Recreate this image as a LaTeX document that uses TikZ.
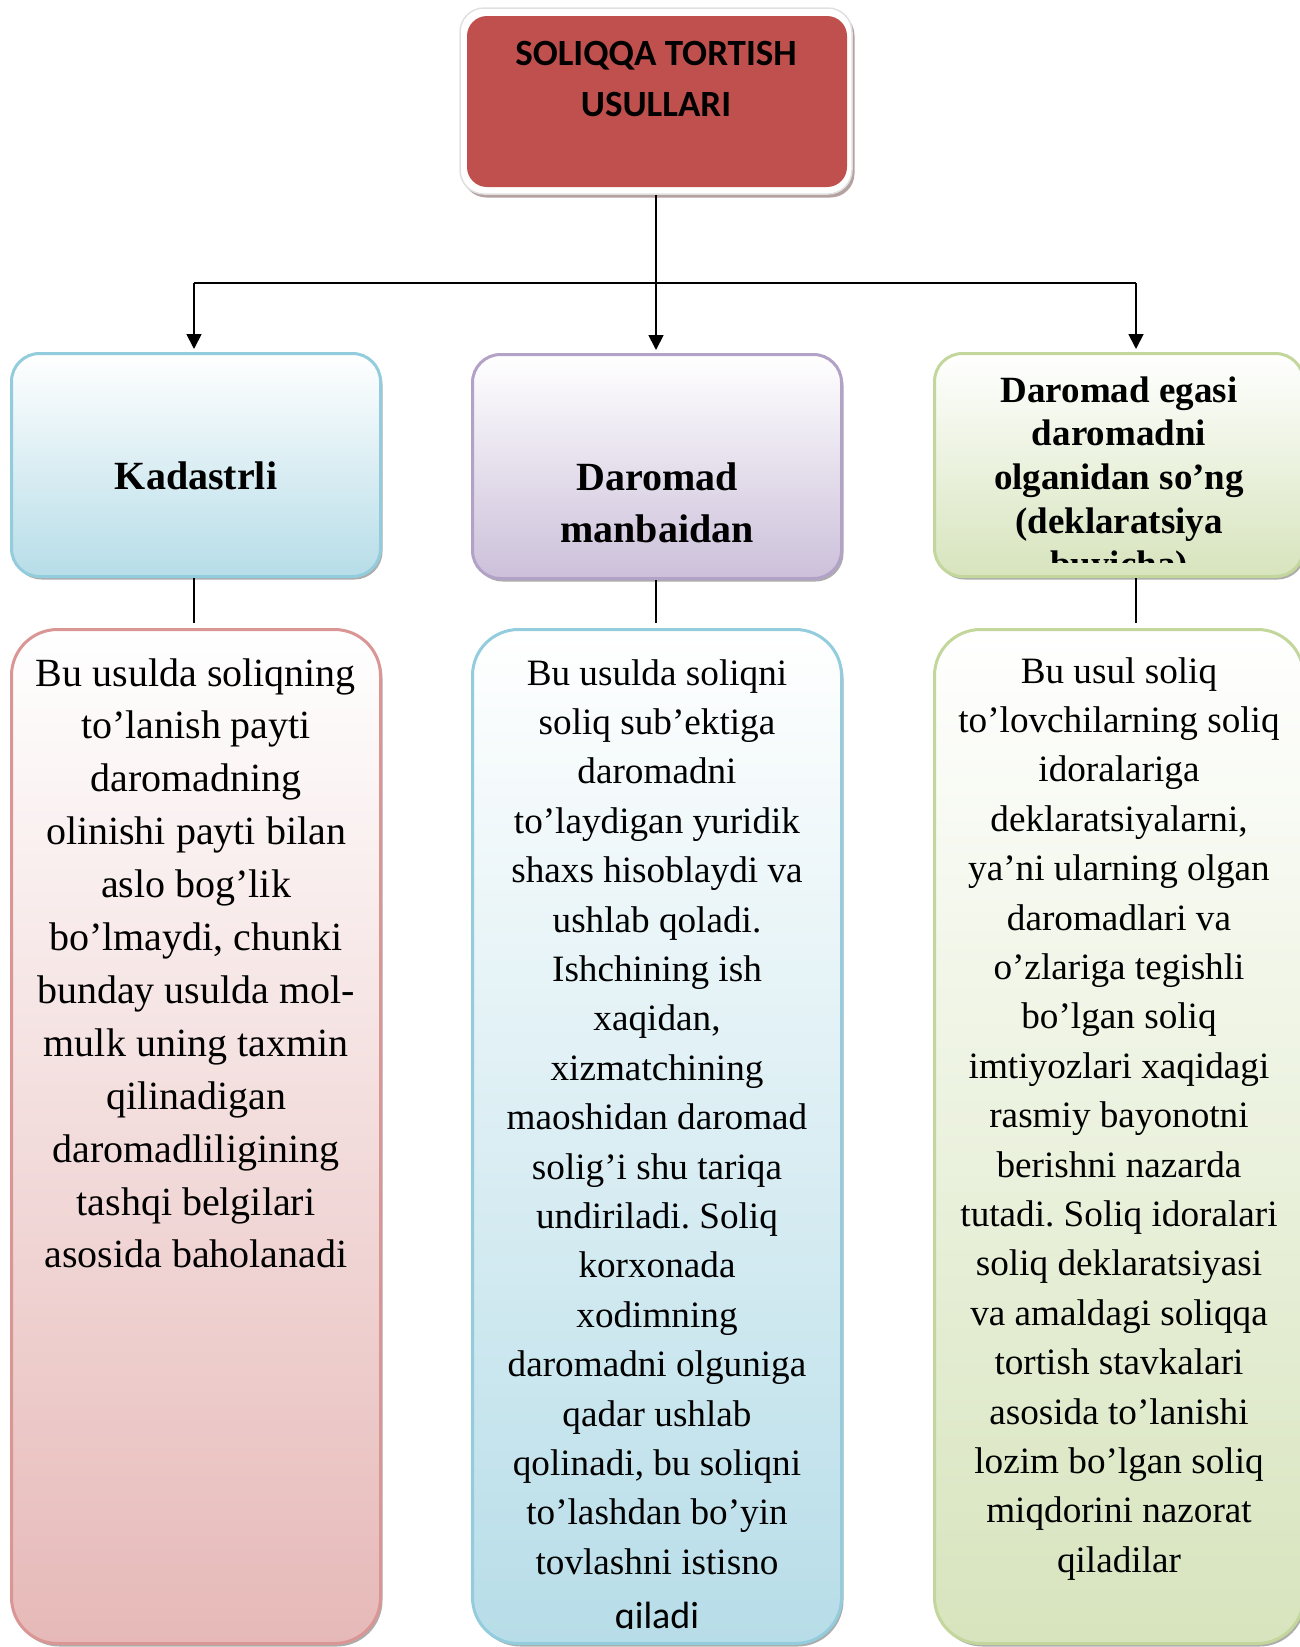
\documentclass[tikz,border=0pt]{standalone}
\usepackage{fontspec}
\setmainfont{Liberation Serif}
\newfontfamily\calibri{Carlito}
\usetikzlibrary{arrows.meta,shadows}
\frenchspacing

\definecolor{hdred}{HTML}{C0504D}
\definecolor{aquaedge}{HTML}{93CDDD}
\definecolor{aquafill}{HTML}{B7DDE8}
\definecolor{lilacedge}{HTML}{B3A2C7}
\definecolor{lilacfill}{HTML}{CCC0DA}
\definecolor{greenedge}{HTML}{C3D69B}
\definecolor{greenfill}{HTML}{D7E4BD}
\definecolor{pinkedge}{HTML}{D99694}
\definecolor{pinkfill}{HTML}{E6B9B8}

\tikzset{
  conn/.style={line width=1.8pt, draw=black},
  tipped/.style={conn, -{Triangle[width=15pt,length=15pt]}},
  softshadow/.style={drop shadow={shadow xshift=2pt, shadow yshift=-3pt, fill=black!50, opacity=.65}},
  headbox/.style={rectangle, rounded corners=28pt, minimum width=369pt,
    line width=3pt, inner sep=0pt, softshadow},
  bodybox/.style={rectangle, rounded corners=46pt, minimum width=369pt,
    minimum height=1014pt, line width=3pt, inner sep=0pt, softshadow},
  txt/.style={anchor=base, inner sep=0pt, outer sep=0pt}
}

\begin{document}
\begin{tikzpicture}[x=1pt,y=-1pt]
\useasboundingbox (0,0) rectangle (1299,1647);

% title block: white frame with the red plate inside
\node[rectangle, rounded corners=24pt, minimum width=392pt, minimum height=186pt,
      fill=white, draw=black!12, line width=1.5pt,
      drop shadow={shadow xshift=2.5pt, shadow yshift=-3.5pt, fill=hdred!40!black!60, opacity=.7}] (frame) at (656,101) {};
\node[rectangle, rounded corners=20pt, minimum width=380pt, minimum height=171pt,
      fill=hdred, inner sep=0pt] (title) at (657,101.5) {};
\node[txt, font=\calibri\bfseries\fontsize{37}{51}\selectfont] (titletext) at (656,65)
  {\parbox[t]{380pt}{\centering SOLIQQA TORTISH\\USULLARI}};

% method headings
\node[headbox, minimum height=223pt, draw=aquaedge, top color=white, bottom color=aquafill] (h1) at (196,465) {};
\node[headbox, minimum height=224pt, draw=lilacedge, top color=white, bottom color=lilacfill] (h2) at (657,466.5) {};
\node[headbox, minimum height=223pt, draw=greenedge, top color=white, bottom color=greenfill] (h3) at (1119,465) {};

\node[txt, font=\bfseries\fontsize{40}{52}\selectfont] (h1text) at (196,489) {Kadastrli};
\node[txt, font=\bfseries\fontsize{40}{52}\selectfont] (h2text) at (657,490)
  {\parbox[t]{360pt}{\centering Daromad\\manbaidan}};
\begin{scope}
  \clip (920,340) rectangle (1299,562);
  \node[txt, font=\bfseries\fontsize{37}{43.7}\selectfont] (h3text) at (1119,402)
    {\parbox[t]{360pt}{\centering Daromad egasi\\daromadni\\olganidan so’ng\\(deklaratsiya\\buyicha)}};
\end{scope}

% descriptions
\node[bodybox, draw=pinkedge, top color=white, bottom color=pinkfill] (d1) at (196,1136.5) {};
\node[bodybox, draw=aquaedge, top color=white, bottom color=aquafill] (d2) at (657,1136.5) {};
\node[bodybox, draw=greenedge, top color=white, bottom color=greenfill] (d3) at (1119,1136.5) {};

\node[txt, font=\fontsize{40}{52.9}\selectfont] (d1text) at (196,686)
  {\parbox[t]{360pt}{\centering
   Bu usulda soliqning\\
   to’lanish payti\\
   daromadning\\
   olinishi payti bilan\\
   aslo bog’lik\\
   bo’lmaydi, chunki\\
   bunday usulda mol-\\
   mulk uning taxmin\\
   qilinadigan\\
   daromadliligining\\
   tashqi belgilari\\
   asosida baholanadi}};

\begin{scope}
  \clip (460,640) rectangle (860,1628);
  \node[txt, font=\fontsize{37.2}{49.4}\selectfont] (d2text) at (657,685)
    {\parbox[t]{360pt}{\centering
     Bu usulda soliqni\\
     soliq sub’ektiga\\
     daromadni\\
     to’laydigan yuridik\\
     shaxs hisoblaydi va\\
     ushlab qoladi.\\
     Ishchining ish\\
     xaqidan,\\
     xizmatchining\\
     maoshidan daromad\\
     solig’i shu tariqa\\
     undiriladi. Soliq\\
     korxonada\\
     xodimning\\
     daromadni olguniga\\
     qadar ushlab\\
     qolinadi, bu soliqni\\
     to’lashdan bo’yin\\
     tovlashni istisno\\[5pt]
     {\calibri\fontsize{38}{49.4}\selectfont qiladi}}};
\end{scope}

\node[txt, font=\fontsize{37.2}{49.4}\selectfont] (d3text) at (1119,683)
  {\parbox[t]{360pt}{\centering
   Bu usul soliq\\
   to’lovchilarning soliq\\
   idoralariga\\
   deklaratsiyalarni,\\
   ya’ni ularning olgan\\
   daromadlari va\\
   o’zlariga tegishli\\
   bo’lgan soliq\\
   imtiyozlari xaqidagi\\
   rasmiy bayonotni\\
   berishni nazarda\\
   tutadi. Soliq idoralari\\
   soliq deklaratsiyasi\\
   va amaldagi soliqqa\\
   tortish stavkalari\\
   asosida to’lanishi\\
   lozim bo’lgan soliq\\
   miqdorini nazorat\\
   qiladilar}};

% tree connectors
\coordinate (jc) at (656,283);
\coordinate (jl) at (194,283);
\coordinate (jr) at (1136,283);
\draw[conn] (frame.south) -- (jc);
\draw[conn] (jl) -- (jr);
\draw[tipped, shorten >=3pt] (jl) -- (jl |- h1.north);
\draw[tipped, shorten >=3pt] (jc) -- (jc |- h2.north);
\draw[tipped, shorten >=3pt] (jr) -- (jr |- h3.north);

% heading to description links
\draw[conn, shorten >=5pt] (h1.south -| jl) -- (d1.north -| jl);
\draw[conn, shorten >=5pt] (h2.south -| jc) -- (d2.north -| jc);
\draw[conn, shorten >=5pt] (h3.south -| jr) -- (d3.north -| jr);
\end{tikzpicture}
\end{document}
